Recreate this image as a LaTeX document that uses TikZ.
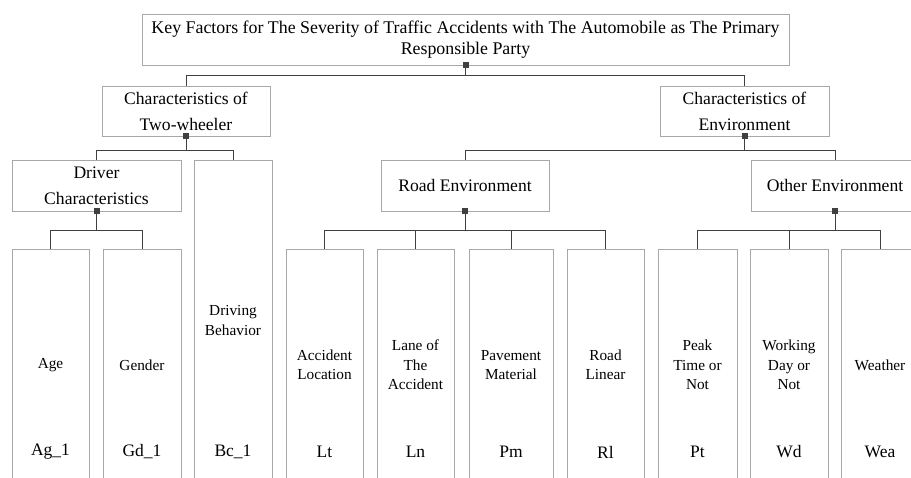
\documentclass[tikz,border=0pt]{standalone}
\usepackage{fontspec}
\setmainfont{Liberation Serif}
\definecolor{boxgray}{HTML}{A8A8A8}
\definecolor{conngray}{HTML}{404040}
\begin{document}
\begin{tikzpicture}[x=1pt,y=-1pt,
  box/.style={draw=boxgray, line width=0.9pt, rectangle, inner sep=0pt, align=center},
  titlebox/.style={box, font=\fontsize{17.85}{20.5}\selectfont},
  hdr/.style={box, font=\fontsize{17.6}{26}\selectfont},
  leaf/.style={box, minimum width=77pt, minimum height=232pt, font=\fontsize{15.3}{19.5}\selectfont},
  code/.style={inner sep=0pt, font=\fontsize{17.5}{21}\selectfont},
  conn/.style={draw=conngray, line width=1pt},
  sq/.style={fill=conngray, rectangle, minimum size=6pt, inner sep=0pt}
]
\useasboundingbox (0,0) rectangle (911,478);
\clip (0,0) rectangle (911,478);

% root
\node[titlebox, minimum width=647pt, minimum height=51pt] (top) at (465.5,39.5)
  {Key Factors for The Severity of Traffic Accidents with The Automobile as The Primary\\Responsible Party};

% second level
\node[hdr, minimum width=168pt, minimum height=50pt] (tw) at (186,111) {Characteristics of\\Two-wheeler};
\node[hdr, minimum width=169pt, minimum height=50pt] (env) at (744.5,111) {Characteristics of\\Environment};

% third level
\node[hdr, minimum width=169pt, minimum height=51pt] (drv) at (96.5,185.5) {Driver\\Characteristics};
\node[box, minimum width=78pt, minimum height=321pt, font=\fontsize{15.3}{19.5}\selectfont] (beh) at (233,320.5) {Driving\\Behavior};
\node[hdr, minimum width=168pt, minimum height=51pt] (road) at (465,185.5) {Road Environment};
\node[hdr, minimum width=168pt, minimum height=51pt] (oth) at (835,185.5) {Other Environment};

% leaves
\node[leaf] (age) at (50.5,365) {Age};
\node[leaf, minimum width=78pt] (gen) at (142,365) {Gender};
\node[leaf] (acc) at (324.5,365) {Accident\\Location};
\node[leaf] (lane) at (415.5,365) {Lane of\\The\\Accident};
\node[leaf, minimum width=84pt] (pav) at (511,365) {Pavement\\Material};
\node[leaf] (rl) at (605.5,365) {Road\\Linear};
\node[leaf, minimum width=79pt] (pk) at (697.5,365) {Peak\\Time or\\Not};
\node[leaf, minimum width=78pt] (wd) at (789,365) {Working\\Day or\\Not};
\node[leaf, minimum width=78pt] (wea) at (880,365) {Weather};

% variable codes
\node[code] (cage) at (50.5,452) {Ag\_1};
\node[code] (cgen) at (142,452) {Gd\_1};
\node[code] (cbeh) at (233,452) {Bc\_1};
\node[code] (cacc) at (324.5,452) {Lt};
\node[code] (clane) at (415.5,452) {Ln};
\node[code] (cpav) at (511,452) {Pm};
\node[code] (crl) at (605.5,452) {Rl};
\node[code] (cpk) at (697.5,452) {Pt};
\node[code] (cwd) at (789,452) {Wd};
\node[code] (cwea) at (880,452) {Wea};

% connectors
\draw[conn] (top.south) -- ++(0,10) -| (tw.north);
\draw[conn] (top.south) -- ++(0,10) -| (env.north);
\draw[conn] (tw.south) -- ++(0,14) -| (drv.north);
\draw[conn] (tw.south) -- ++(0,14) -| (beh.north);
\draw[conn] (env.south) -- ++(0,14) -| (road.north);
\draw[conn] (env.south) -- ++(0,14) -| (oth.north);
\draw[conn] (drv.south) -- ++(0,19) -| (age.north);
\draw[conn] (drv.south) -- ++(0,19) -| (gen.north);
\foreach \c in {acc,lane,pav,rl}
  \draw[conn] (road.south) -- ++(0,19) -| (\c.north);
\foreach \c in {pk,wd,wea}
  \draw[conn] (oth.south) -- ++(0,19) -| (\c.north);

% junction markers
\node[sq] (sqtop) at (top.south) {};
\node[sq] (sqtw) at (tw.south) {};
\node[sq] (sqenv) at (env.south) {};
\node[sq] (sqdrv) at (drv.south) {};
\node[sq] (sqroad) at (road.south) {};
\node[sq] (sqoth) at (oth.south) {};
\end{tikzpicture}
\end{document}
